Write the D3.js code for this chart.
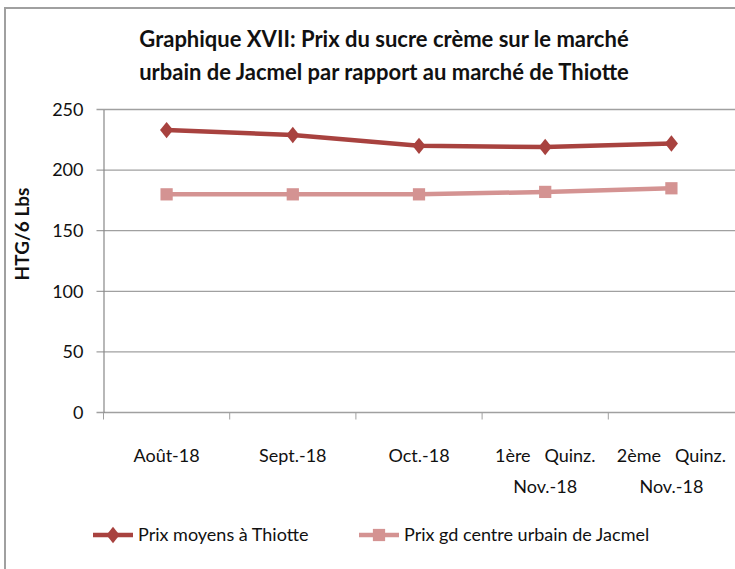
<!DOCTYPE html>
<html>
<head>
<meta charset="utf-8">
<script src="https://cdn.jsdelivr.net/npm/d3@7"></script>
<style>
  body { margin: 0; background: #fff; }
  text { font-family: Lato, "Open Sans", sans-serif; fill: #111; }
</style>
</head>
<body>
<svg id="chart" width="735" height="569"></svg>
<script>
var months = [
  ["Août-18"],
  ["Sept.-18"],
  ["Oct.-18"],
  ["1ère   Quinz.", "Nov.-18"],
  ["2ème   Quinz.", "Nov.-18"]
];
var thiotte = [233, 229, 220, 219, 222];
var jacmel = [180, 180, 180, 182, 185];
var yTicks = [0, 50, 100, 150, 200, 250];
var seriesNames = ["Prix moyens à Thiotte", "Prix gd centre urbain de Jacmel"];
var colors = ["#a8423f", "#d49392"];

var svg = d3.select("#chart");

// outer frame, cut off at the right and bottom like the picture
svg.append("rect")
  .attr("x", 5).attr("y", 8)
  .attr("width", 800).attr("height", 700)
  .attr("fill", "none")
  .attr("stroke", "#a0a0a0")
  .attr("stroke-width", 2);

var plotL = 103.5, plotR = 734.5, plotT = 109.5, plotB = 412.5;

var x = d3.scaleBand()
  .domain(d3.range(months.length))
  .range([plotL, plotR]);

var y = d3.scaleLinear()
  .domain([0, 250])
  .range([plotB, plotT]);

// gridlines
svg.append("g")
  .selectAll("line")
  .data(yTicks)
  .enter().append("line")
  .attr("x1", plotL - 7).attr("x2", 735)
  .attr("y1", function(d) { return y(d); })
  .attr("y2", function(d) { return y(d); })
  .attr("stroke", "#a0a0a0")
  .attr("stroke-width", 1.3);

// y axis
var yAxis = svg.append("g")
  .attr("transform", "translate(" + plotL + ",0)")
  .call(d3.axisLeft(y).tickValues(yTicks).tickSize(0).tickPadding(20));
yAxis.select(".domain").attr("stroke", "#888").attr("stroke-width", 1.2);
yAxis.selectAll("text")
  .style("font-size", "18px")
  .attr("fill", "#111");

// x ticks
svg.append("g")
  .selectAll("line")
  .data(d3.range(months.length))
  .enter().append("line")
  .attr("x1", function(d) { return x(d); })
  .attr("x2", function(d) { return x(d); })
  .attr("y1", plotB).attr("y2", plotB + 7)
  .attr("stroke", "#a0a0a0");

var lab = svg.append("g").selectAll("text")
  .data(months)
  .enter().append("text")
  .attr("text-anchor", "middle")
  .attr("x", function(d, i) { return x(i) + x.bandwidth() / 2; })
  .attr("y", 462)
  .style("font-size", "18px")
  .style("white-space", "pre");
lab.selectAll("tspan")
  .data(function(d) { return d; })
  .enter().append("tspan")
  .attr("x", function() { return d3.select(this.parentNode).attr("x"); })
  .attr("dy", function(d, i) { return i === 0 ? 0 : 31; })
  .text(function(d) { return d; });

// y axis title
svg.append("text")
  .attr("transform", "translate(29,234) rotate(-90)")
  .attr("text-anchor", "middle")
  .style("font-size", "19px")
  .style("font-weight", "bold")
  .text("HTG/6 Lbs");

// title
var title = ["Graphique XVII: Prix du sucre crème sur le marché",
             "urbain de Jacmel par rapport au marché de Thiotte"];
svg.append("g").selectAll("text")
  .data(title)
  .enter().append("text")
  .attr("x", 384)
  .attr("y", function(d, i) { return 47 + i * 33; })
  .attr("text-anchor", "middle")
  .style("font-size", "22px")
  .style("font-weight", "bold")
  .text(function(d) { return d; });

// lines
var cx = function(d, i) { return x(i) + x.bandwidth() / 2; };
var line = d3.line()
  .x(cx)
  .y(function(d) { return y(d); });

var diamond = d3.symbol().type(d3.symbolDiamond2).size(110);
var square = d3.symbol().type(d3.symbolSquare).size(150);

[thiotte, jacmel].forEach(function(data, k) {
  svg.append("path")
    .datum(data)
    .attr("d", line)
    .attr("fill", "none")
    .attr("stroke", colors[k])
    .attr("stroke-width", 4.5);
  svg.append("g").selectAll("path")
    .data(data)
    .enter().append("path")
    .attr("d", k === 0 ? diamond : square)
    .attr("transform", function(d, i) {
      return "translate(" + cx(d, i) + "," + y(d) + ")" + (k === 0 ? " scale(1,1.25)" : "");
    })
    .attr("fill", colors[k]);
});

// legend
var legendX = [93, 359];
var leg = svg.append("g").selectAll("g")
  .data(seriesNames)
  .enter().append("g")
  .attr("transform", function(d, i) { return "translate(" + legendX[i] + ",535)"; });
leg.append("line")
  .attr("x1", 0).attr("x2", 40)
  .attr("stroke", function(d, i) { return colors[i]; })
  .attr("stroke-width", 4.5);
leg.append("path")
  .attr("d", function(d, i) { return i === 0 ? diamond() : square(); })
  .attr("transform", function(d, i) { return "translate(20,0)" + (i === 0 ? " scale(1,1.25)" : ""); })
  .attr("fill", function(d, i) { return colors[i]; });
leg.append("text")
  .attr("x", 45)
  .attr("y", 6)
  .style("font-size", "18px")
  .text(function(d) { return d; });
</script>
</body>
</html>
